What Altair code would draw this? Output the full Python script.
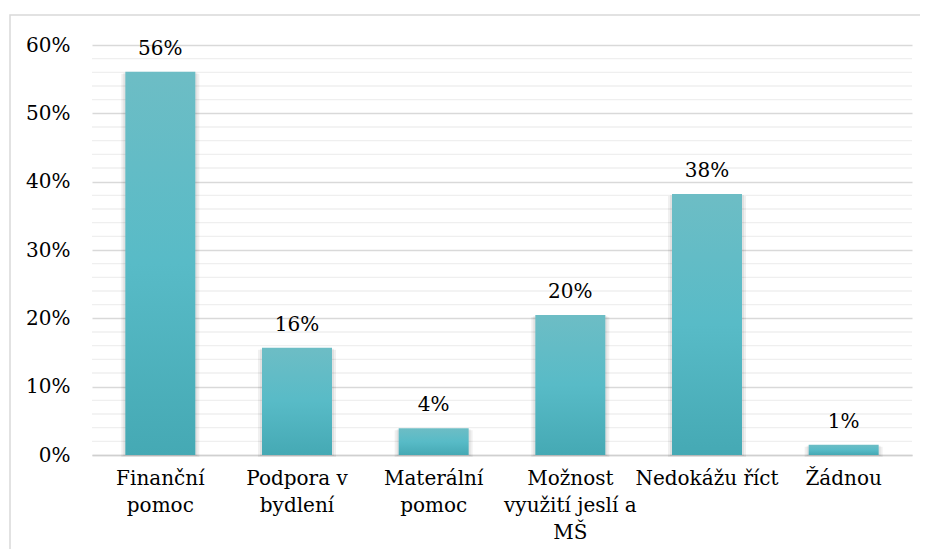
import altair as alt
import pandas as pd

categories = ["Finanční|pomoc", "Podpora v|bydlení", "Materální|pomoc",
              "Možnost|využití jeslí a|MŠ", "Nedokážu říct", "Žádnou"]
values = [0.561, 0.157, 0.039, 0.205, 0.382, 0.015]
labels = ["56%", "16%", "4%", "20%", "38%", "1%"]
major_ticks = [0, 0.1, 0.2, 0.3, 0.4, 0.5, 0.6]
minor_ticks = [v / 100 for v in range(2, 60, 2) if v % 10 != 0]

df = pd.DataFrame({"cat": categories, "val": values, "lab": labels})
minor_df = pd.DataFrame({"y": minor_ticks})
FONT = "DejaVu Serif"
FS = 20

x_enc = alt.X("cat:N", sort=None, title=None,
              scale=alt.Scale(paddingInner=0.49, paddingOuter=0.245),
              axis=alt.Axis(labelExpr="split(datum.label, '|')", labelAngle=0,
                            labelFont=FONT, labelFontSize=FS, labelColor="#000000",
                            labelLineHeight=27, labelPadding=13, ticks=False, grid=False,
                            domainColor="#d0d0d0", domainWidth=1.6, labelBaseline="top"))
y_scale = alt.Scale(domain=[0, 0.6], nice=False)

minor = alt.Chart(minor_df).mark_rule(color="#efefef", strokeWidth=1.3).encode(
    y=alt.Y("y:Q", scale=y_scale)
)

shadow = alt.Chart(df).mark_bar(color="#000000", opacity=0.06, size=78, yOffset=2).encode(
    x=x_enc, y=alt.Y("val:Q", scale=y_scale)
)
shadow2 = alt.Chart(df).mark_bar(color="#000000", opacity=0.06, size=74, yOffset=1).encode(
    x=x_enc, y=alt.Y("val:Q", scale=y_scale)
)

bars = alt.Chart(df).mark_bar(
    size=70,
    color=alt.Gradient(gradient="linear", x1=0, y1=0, x2=0, y2=1,
                       stops=[alt.GradientStop(color="#6dbdc5", offset=0),
                              alt.GradientStop(color="#58bbc7", offset=0.5),
                              alt.GradientStop(color="#45a9b4", offset=1)])
).encode(
    x=x_enc,
    y=alt.Y("val:Q", scale=y_scale, title=None,
            axis=alt.Axis(values=major_ticks, format=".0%", labelFont=FONT,
                          labelFontSize=FS, labelColor="#000000", labelPadding=22,
                          ticks=False, domain=False, grid=True,
                          gridColor="#d9d9d9", gridWidth=1.4))
)

text = alt.Chart(df).mark_text(font=FONT, fontSize=FS, color="#000000",
                               baseline="middle", dy=-23).encode(
    x=x_enc, y=alt.Y("val:Q", scale=y_scale), text="lab:N"
)

border = alt.Chart(pd.DataFrame({"a": [0]})).mark_rect(
    fill=None, stroke="#d9d9d9", strokeWidth=1.5, clip=False
).encode(x=alt.value(-82), x2=alt.value(1000), y=alt.value(-30), y2=alt.value(700))

chart = alt.layer(border, minor, shadow2, shadow, bars, text).properties(
    width=820, height=410,
    autosize=alt.AutoSizeParams(type="none"),
    padding={"left": 84, "top": 37, "right": 8, "bottom": 94},
).configure_view(stroke=None)

chart.save("out.html", embed_options={"renderer": "svg", "actions": False})
